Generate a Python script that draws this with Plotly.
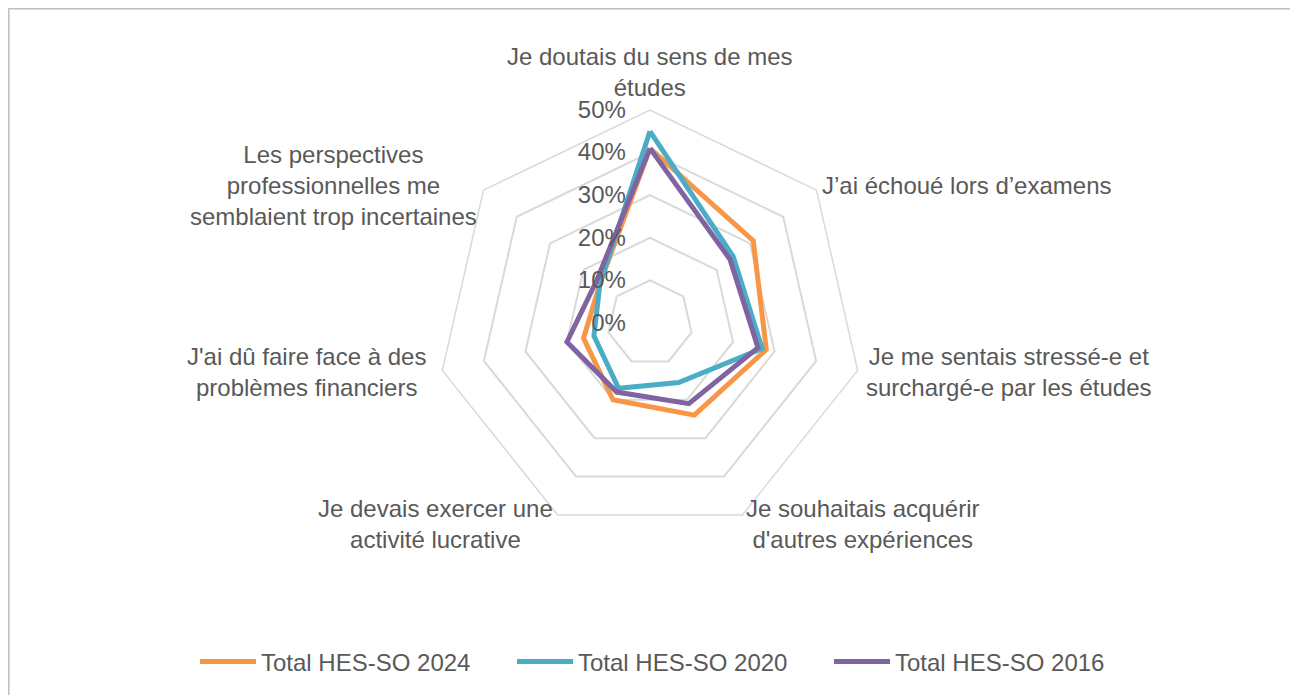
import plotly.graph_objects as go

# categories (clockwise from the top)
categories = [
    "Je doutais du sens de mes<br>études",
    "J’ai échoué lors d’examens",
    "Je me sentais stressé-e et<br>surchargé-e par les études",
    "Je souhaitais acquérir<br>d'autres expériences",
    "Je devais exercer une<br>activité lucrative",
    "J'ai dû faire face à des<br>problèmes financiers",
    "Les perspectives<br>professionnelles me<br>semblaient trop incertaines",
]

# values in %
hes_2024 = [41, 31, 28, 24, 20, 16, 15]
hes_2020 = [45, 25, 27, 15.5, 17, 13.5, 15]
hes_2016 = [41, 24, 26, 21, 18, 20, 16]

series_names = ["Total HES-SO 2024", "Total HES-SO 2020", "Total HES-SO 2016"]
colors = ["#F79646", "#4BACC6", "#8064A2"]

radial_ticks = [0, 10, 20, 30, 40, 50]
radial_text = ["0%", "10%", "20%", "30%", "40%", "50%"]

W, H = 1298, 695
OFF = 8  # page margin of the html body
cx, cy, R = 650 - OFF, 323 - OFF, 213
text_col = "#595959"
font_family = "Liberation Sans, Arial, sans-serif"
fs = 24
pad = "\u00a0" * 3  # pushes the radial labels a bit left of the axis

fig = go.Figure()
for name, vals, col in zip(series_names, [hes_2024, hes_2020, hes_2016], colors):
    fig.add_trace(go.Scatterpolar(
        r=vals + vals[:1],
        theta=categories + categories[:1],
        mode="lines",
        name=name,
        line=dict(color=col, width=5),
        hoverinfo="skip",
    ))

fig.update_layout(
    width=W, height=H,
    margin=dict(l=0, r=0, t=0, b=0),
    paper_bgcolor="white",
    font=dict(family=font_family, size=fs, color=text_col),
    polar=dict(
        domain=dict(x=[(cx - R) / W, (cx + R) / W],
                    y=[(H - cy - R) / H, (H - cy + R) / H]),
        gridshape="linear",
        bgcolor="rgba(0,0,0,0)",
        radialaxis=dict(
            range=[0, 50], tickmode="array", tickvals=radial_ticks,
            ticktext=[t + pad for t in radial_text],
            angle=90, side="counterclockwise", tickangle=90, showline=False,
            ticks="", gridcolor="#D9D9D9", gridwidth=1.5,
            tickfont=dict(size=fs, color=text_col),
        ),
        angularaxis=dict(
            type="category", categoryorder="array", categoryarray=categories,
            showticklabels=False, rotation=90, direction="clockwise",
            showline=True, linecolor="#D9D9D9", linewidth=1.5,
            gridcolor="rgba(0,0,0,0)", ticks="",
        ),
    ),
    legend=dict(
        orientation="h", x=(195 - OFF) / W, xanchor="left", y=(H - 662 + OFF) / H, yanchor="middle",
        font=dict(size=fs, color=text_col), itemwidth=56,
        entrywidth=246, entrywidthmode="pixels", tracegroupgap=0,
    ),
    showlegend=True,
)

# category labels around the chart
label_pos = [(650, 72), (967, 185), (1009, 372), (862, 524), (435, 524), (306, 372), (333, 185)]
for txt, (px, py) in zip(categories, label_pos):
    fig.add_annotation(
        text=txt, x=(px - OFF) / W, y=(H - py + OFF) / H, xref="paper", yref="paper",
        showarrow=False, align="center", xanchor="center", yanchor="middle",
        font=dict(size=fs, color=text_col),
    )

# chart area border
fig.add_shape(type="rect", xref="paper", yref="paper",
              x0=0.8 / W, x1=(1291.5 - OFF) / W, y0=-0.01, y1=(H - 0.8) / H,
              line=dict(color="#BFBFBF", width=1.5))

fig.write_html("out.html")
